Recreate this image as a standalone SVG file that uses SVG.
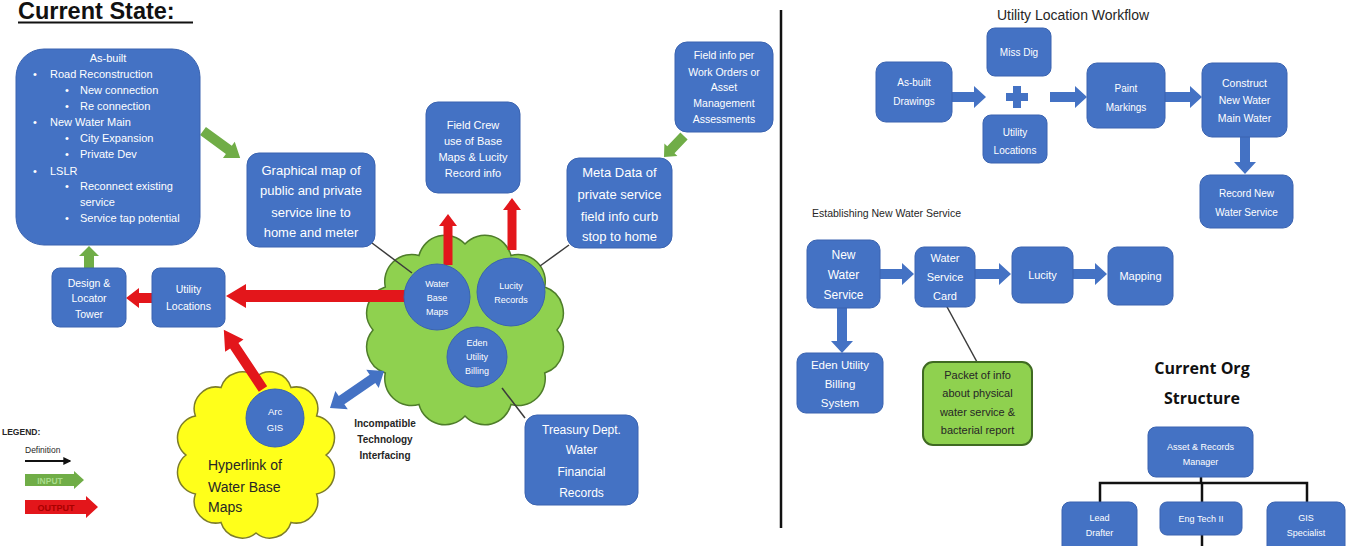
<svg xmlns="http://www.w3.org/2000/svg" width="1349" height="546" viewBox="0 0 1349 546">
  <defs>
    <style>
      .box { fill: #4472c4; stroke: #3a63b0; stroke-width: 1; }
      .circ { fill: #4472c4; stroke: #3a63b0; stroke-width: 1; }
      .wt { fill: #ffffff; font-family: "Liberation Sans", Arial, sans-serif; text-anchor: middle; }
      .wl { fill: #ffffff; font-family: "Liberation Sans", Arial, sans-serif; font-size: 11px; }
      .dk { fill: #262626; font-family: "Liberation Sans", Arial, sans-serif; }
      .red { fill: #e3161b; }
      .grn { fill: #70ad47; }
      .blu { fill: #4472c4; }
      .link { stroke: #3b3b3b; stroke-width: 1.5; fill: none; }
      .org { stroke: #111111; stroke-width: 2.5; fill: none; }
    </style>
    <marker id="defHead" viewBox="0 0 6 6" refX="5" refY="3" markerWidth="4" markerHeight="4" orient="auto">
      <path d="M0,0 L6,3 L0,6 Z" fill="#111"/>
    </marker>
  </defs>

  <rect width="1349" height="546" fill="#ffffff"/>

  <!-- page title -->
  <g id="title-current-state">
    <text x="18" y="19" font-family="Liberation Sans, Arial, sans-serif" font-size="23.5" font-weight="bold" fill="#111">Current State:</text>
    <line x1="18" y1="22.5" x2="193" y2="22.5" stroke="#111" stroke-width="2"/>
  </g>

  <!-- divider between the two halves -->
  <line id="divider" x1="781" y1="10" x2="781" y2="528" stroke="#111" stroke-width="2.5"/>

  <!-- clouds -->
  <g id="cloud-green">
    <path d="M465,244 A27,27 0 0 1 511,255.5 A27,27 0 0 1 544.7,287 A27,27 0 0 1 557,330 A27,27 0 0 1 544.7,373 A27,27 0 0 1 511,404.5 A27,27 0 0 1 465,416 A27,27 0 0 1 419,404.5 A27,27 0 0 1 385.3,373 A27,27 0 0 1 373,330 A27,27 0 0 1 385.3,287 A27,27 0 0 1 419,255.5 A27,27 0 0 1 465,244 Z" fill="#8fd14f" stroke="#4e7d2a" stroke-width="1.5"/>
  </g>
  <g id="cloud-yellow">
    <path d="M256,377 A22,22 0 0 1 291,387.5 A22,22 0 0 1 316.6,416 A22,22 0 0 1 326,455 A22,22 0 0 1 316.6,494 A22,22 0 0 1 291,522.5 A22,22 0 0 1 256,533 A22,22 0 0 1 221,522.5 A22,22 0 0 1 195.4,494 A22,22 0 0 1 186,455 A22,22 0 0 1 195.4,416 A22,22 0 0 1 221,387.5 A22,22 0 0 1 256,377 Z" fill="#ffff1a" stroke="#7d7d2a" stroke-width="1.5"/>
    <text class="dk" x="208" y="470" font-size="14">Hyperlink of</text>
    <text class="dk" x="208" y="492" font-size="14">Water Base</text>
    <text class="dk" x="208" y="512" font-size="14">Maps</text>
  </g>

  <!-- connectors -->
  <g id="connectors">
    <line class="link" x1="372" y1="243" x2="412" y2="273"/>
    <line class="link" x1="569" y1="245" x2="540" y2="266"/>
    <line class="link" x1="525" y1="418" x2="502" y2="388"/>
    <line class="link" x1="977" y1="362" x2="946" y2="305"/>

    <!-- red output arrows -->
    <polygon class="red" points="405,290 246,290 246,284 226,296 246,308 246,302 405,302"/>
    <polygon class="red" points="152,293 139,293 139,288 126,298 139,308 139,303 152,303"/>
    <polygon class="red" points="443.5,265 443.5,226 439,226 448,214 457,226 452.5,226 452.5,265"/>
    <polygon class="red" points="507.5,250 507.5,210 503,210 512,198 521,210 516.5,210 516.5,250"/>
    <polygon class="red" transform="translate(263,389) rotate(-123.5)" points="0,-5 52,-5 52,-11 71,0 52,11 52,5 0,5"/>

    <!-- green input arrows -->
    <polygon class="grn" points="84,268 84,256 79,256 89,246 99,256 94,256 94,268"/>
    <polygon class="grn" transform="translate(203,131) rotate(36.1)" points="0,-5 32,-5 32,-10 46,0 32,10 32,5 0,5"/>
    <polygon class="grn" transform="translate(684,136) rotate(133.6)" points="0,-5 19,-5 19,-9 29,0 19,9 19,5 0,5"/>

    <!-- incompatible interface double arrow -->
    <polygon class="blu" transform="translate(330,408) rotate(-34.4)" points="0,0 14,-11 14,-5 51.5,-5 51.5,-11 65.5,0 51.5,11 51.5,5 14,5 14,11"/>

    <!-- workflow arrows -->
    <polygon class="blu" points="952,92 974,92 974,86 986,97 974,108 974,102 952,102"/>
    <polygon class="blu" points="1050,92 1075,92 1075,86 1087,97 1075,108 1075,102 1050,102"/>
    <polygon class="blu" points="1165,92 1190,92 1190,86 1202,97 1190,108 1190,102 1165,102"/>
    <polygon class="blu" points="1240,137 1240,162 1234,162 1245,174 1256,162 1250,162 1250,137"/>
    <polygon class="blu" points="880,269 902,269 902,263 914,274 902,285 902,279 880,279"/>
    <polygon class="blu" points="975,269 999,269 999,263 1011,274 999,285 999,279 975,279"/>
    <polygon class="blu" points="1073,269 1095,269 1095,263 1107,274 1095,285 1095,279 1073,279"/>
    <polygon class="blu" points="837,308 837,341 831,341 842,353 853,341 847,341 847,308"/>
    <!-- plus sign -->
    <polygon class="blu" points="1013,86 1021,86 1021,93 1028,93 1028,101 1021,101 1021,108 1013,108 1013,101 1006,101 1006,93 1013,93"/>

    <!-- org chart lines -->
    <polyline class="org" points="1201,477 1201,483"/>
    <polyline class="org" points="1100,502 1100,483 1307,483 1307,502"/>
    <line class="org" x1="1202" y1="483" x2="1202" y2="502"/>
    <line class="org" x1="1202" y1="535" x2="1202" y2="546"/>
  </g>

  <!-- left half nodes -->
  <g id="as-built">
    <rect class="box" x="16" y="49" width="184" height="196" rx="28"/>
    <text class="wt" x="108" y="62" font-size="11">As-built</text>
    <text class="wl" x="33" y="78">•</text><text class="wl" x="50" y="78">Road Reconstruction</text>
    <text class="wl" x="65" y="94">•</text><text class="wl" x="80" y="94">New connection</text>
    <text class="wl" x="65" y="110">•</text><text class="wl" x="80" y="110">Re connection</text>
    <text class="wl" x="33" y="126">•</text><text class="wl" x="50" y="126">New Water Main</text>
    <text class="wl" x="65" y="142">•</text><text class="wl" x="80" y="142">City Expansion</text>
    <text class="wl" x="65" y="158">•</text><text class="wl" x="80" y="158">Private Dev</text>
    <text class="wl" x="33" y="175">•</text><text class="wl" x="50" y="175">LSLR</text>
    <text class="wl" x="65" y="190">•</text><text class="wl" x="80" y="190">Reconnect existing</text>
    <text class="wl" x="80" y="206">service</text>
    <text class="wl" x="65" y="222">•</text><text class="wl" x="80" y="222">Service tap potential</text>
  </g>

  <g id="design-locator">
    <rect class="box" x="52" y="268" width="74" height="59" rx="8"/>
    <text class="wt" x="89" y="287" font-size="10.5">Design &amp;</text>
    <text class="wt" x="89" y="302" font-size="10.5">Locator</text>
    <text class="wt" x="89" y="318" font-size="10.5">Tower</text>
  </g>

  <g id="utility-locations">
    <rect class="box" x="152" y="268" width="73" height="59" rx="8"/>
    <text class="wt" x="188.5" y="293" font-size="10.5">Utility</text>
    <text class="wt" x="188.5" y="310" font-size="10.5">Locations</text>
  </g>

  <g id="graphical-map">
    <rect class="box" x="247" y="153" width="128" height="94" rx="12"/>
    <text class="wt" x="311" y="175" font-size="13">Graphical map of</text>
    <text class="wt" x="311" y="195" font-size="13">public and private</text>
    <text class="wt" x="311" y="217" font-size="13">service line to</text>
    <text class="wt" x="311" y="237" font-size="13">home and meter</text>
  </g>

  <g id="field-crew">
    <rect class="box" x="426" y="102" width="94" height="91" rx="12"/>
    <text class="wt" x="473" y="129" font-size="11">Field Crew</text>
    <text class="wt" x="473" y="145" font-size="11">use of Base</text>
    <text class="wt" x="473" y="161" font-size="11">Maps &amp; Lucity</text>
    <text class="wt" x="473" y="177" font-size="11">Record info</text>
  </g>

  <g id="field-info">
    <rect class="box" x="675" y="42" width="98" height="90" rx="12"/>
    <text class="wt" x="724" y="59" font-size="10.5">Field info per</text>
    <text class="wt" x="724" y="76" font-size="10.5">Work Orders or</text>
    <text class="wt" x="724" y="91" font-size="10.5">Asset</text>
    <text class="wt" x="724" y="107" font-size="10.5">Management</text>
    <text class="wt" x="724" y="123" font-size="10.5">Assessments</text>
  </g>

  <g id="meta-data">
    <rect class="box" x="567" y="158" width="105" height="90" rx="12"/>
    <text class="wt" x="619.5" y="177" font-size="13">Meta Data of</text>
    <text class="wt" x="619.5" y="199" font-size="13">private service</text>
    <text class="wt" x="619.5" y="221" font-size="13">field info curb</text>
    <text class="wt" x="619.5" y="241" font-size="13">stop to home</text>
  </g>

  <g id="water-base-maps">
    <circle class="circ" cx="437" cy="297" r="33"/>
    <text class="wt" x="437" y="287" font-size="9">Water</text>
    <text class="wt" x="437" y="301" font-size="9">Base</text>
    <text class="wt" x="437" y="315" font-size="9">Maps</text>
  </g>

  <g id="lucity-records">
    <circle class="circ" cx="511" cy="292" r="34"/>
    <text class="wt" x="511" y="289" font-size="9">Lucity</text>
    <text class="wt" x="511" y="303" font-size="9">Records</text>
  </g>

  <g id="eden-billing">
    <circle class="circ" cx="477" cy="357" r="30"/>
    <text class="wt" x="477" y="346" font-size="9">Eden</text>
    <text class="wt" x="477" y="360" font-size="9">Utility</text>
    <text class="wt" x="477" y="374" font-size="9">Billing</text>
  </g>

  <g id="arc-gis">
    <circle class="circ" cx="275" cy="418" r="29"/>
    <text class="wt" x="275" y="415" font-size="9.5">Arc</text>
    <text class="wt" x="275" y="431" font-size="9.5">GIS</text>
  </g>

  <g id="interface-note">
    <text class="dk" x="385" y="427" font-size="10" font-weight="bold" text-anchor="middle">Incompatible</text>
    <text class="dk" x="385" y="443" font-size="10" font-weight="bold" text-anchor="middle">Technology</text>
    <text class="dk" x="385" y="459" font-size="10" font-weight="bold" text-anchor="middle">Interfacing</text>
  </g>

  <g id="treasury">
    <rect class="box" x="525" y="415" width="113" height="90" rx="12"/>
    <text class="wt" x="581.5" y="434" font-size="12">Treasury Dept.</text>
    <text class="wt" x="581.5" y="454" font-size="12">Water</text>
    <text class="wt" x="581.5" y="476" font-size="12">Financial</text>
    <text class="wt" x="581.5" y="497" font-size="12">Records</text>
  </g>

  <g id="legend">
    <text class="dk" x="2" y="435" font-size="8.5" font-weight="bold">LEGEND:</text>
    <text class="dk" x="25" y="453" font-size="8.5">Definition</text>
    <line x1="25" y1="461" x2="70" y2="461" stroke="#111" stroke-width="2" marker-end="url(#defHead)"/>
    <polygon class="grn" points="25,474 74,474 74,471 84,480 74,489 74,486 25,486"/>
    <text x="50" y="483.5" font-family="Liberation Sans, Arial, sans-serif" font-size="8.5" font-weight="bold" fill="#a9dc8c" text-anchor="middle">INPUT</text>
    <polygon class="red" points="25,500 86,500 86,496 98,507 86,518 86,514 25,514"/>
    <text x="56" y="511" font-family="Liberation Sans, Arial, sans-serif" font-size="9" font-weight="bold" fill="#a80000" text-anchor="middle">OUTPUT</text>
  </g>

  <!-- right half: utility location workflow -->
  <g id="workflow-title">
    <text class="dk" x="1073" y="20" font-size="14" text-anchor="middle">Utility Location Workflow</text>
  </g>

  <g id="as-built-drawings">
    <rect class="box" x="876" y="62" width="76" height="60" rx="10"/>
    <text class="wt" x="914" y="86" font-size="10">As-built</text>
    <text class="wt" x="914" y="105" font-size="10">Drawings</text>
  </g>

  <g id="miss-dig">
    <rect class="box" x="987" y="28" width="64" height="48" rx="8"/>
    <text class="wt" x="1019" y="56" font-size="10">Miss Dig</text>
  </g>

  <g id="utility-locations-2">
    <rect class="box" x="983" y="115" width="64" height="48" rx="8"/>
    <text class="wt" x="1015" y="136" font-size="10">Utility</text>
    <text class="wt" x="1015" y="154" font-size="10">Locations</text>
  </g>

  <g id="paint-markings">
    <rect class="box" x="1087" y="63" width="78" height="65" rx="10"/>
    <text class="wt" x="1126" y="92" font-size="10">Paint</text>
    <text class="wt" x="1126" y="111" font-size="10">Markings</text>
  </g>

  <g id="construct">
    <rect class="box" x="1202" y="63" width="85" height="74" rx="10"/>
    <text class="wt" x="1244.5" y="87" font-size="10.5">Construct</text>
    <text class="wt" x="1244.5" y="104" font-size="10.5">New Water</text>
    <text class="wt" x="1244.5" y="122" font-size="10.5">Main Water</text>
  </g>

  <g id="record-service">
    <rect class="box" x="1200" y="175" width="93" height="53" rx="10"/>
    <text class="wt" x="1246.5" y="197" font-size="10">Record New</text>
    <text class="wt" x="1246.5" y="216" font-size="10">Water Service</text>
  </g>

  <!-- right half: establishing new water service -->
  <g id="service-title">
    <text class="dk" x="812" y="217" font-size="10.5" fill="#333">Establishing New Water Service</text>
  </g>

  <g id="new-water-service">
    <rect class="box" x="807" y="240" width="73" height="68" rx="10"/>
    <text class="wt" x="843.5" y="259" font-size="12">New</text>
    <text class="wt" x="843.5" y="279" font-size="12">Water</text>
    <text class="wt" x="843.5" y="299" font-size="12">Service</text>
  </g>

  <g id="service-card">
    <rect class="box" x="915" y="247" width="60" height="60" rx="9"/>
    <text class="wt" x="945" y="262" font-size="11">Water</text>
    <text class="wt" x="945" y="281" font-size="11">Service</text>
    <text class="wt" x="945" y="300" font-size="11">Card</text>
  </g>

  <g id="lucity">
    <rect class="box" x="1012" y="247" width="61" height="56" rx="9"/>
    <text class="wt" x="1042.5" y="279" font-size="11">Lucity</text>
  </g>

  <g id="mapping">
    <rect class="box" x="1108" y="247" width="65" height="58" rx="9"/>
    <text class="wt" x="1140.5" y="280" font-size="11">Mapping</text>
  </g>

  <g id="eden-system">
    <rect class="box" x="797" y="353" width="86" height="60" rx="9"/>
    <text class="wt" x="840" y="369" font-size="11.5">Eden Utility</text>
    <text class="wt" x="840" y="388" font-size="11.5">Billing</text>
    <text class="wt" x="840" y="407" font-size="11.5">System</text>
  </g>

  <g id="packet-info">
    <rect x="923" y="362" width="109" height="83" rx="10" fill="#8fd14f" stroke="#3f6a22" stroke-width="2"/>
    <text class="dk" x="977.5" y="379" font-size="11" text-anchor="middle">Packet of info</text>
    <text class="dk" x="977.5" y="397" font-size="11" text-anchor="middle">about physical</text>
    <text class="dk" x="977.5" y="416" font-size="11" text-anchor="middle">water service &amp;</text>
    <text class="dk" x="977.5" y="434" font-size="11" text-anchor="middle">bacterial report</text>
  </g>

  <!-- right half: org chart -->
  <g id="org-title">
    <text x="1202" y="374" font-family="Open Sans, Liberation Sans, sans-serif" font-size="16" font-weight="bold" fill="#111" text-anchor="middle">Current Org</text>
    <text x="1202" y="404" font-family="Open Sans, Liberation Sans, sans-serif" font-size="16" font-weight="bold" fill="#111" text-anchor="middle">Structure</text>
  </g>

  <g id="records-manager">
    <rect class="box" x="1148" y="427" width="105" height="50" rx="8"/>
    <text class="wt" x="1200.5" y="450" font-size="9">Asset &amp; Records</text>
    <text class="wt" x="1200.5" y="465" font-size="9">Manager</text>
  </g>

  <g id="lead-drafter">
    <rect class="box" x="1062" y="502" width="75" height="60" rx="8"/>
    <text class="wt" x="1099.5" y="521" font-size="9">Lead</text>
    <text class="wt" x="1099.5" y="536" font-size="9">Drafter</text>
  </g>

  <g id="eng-tech">
    <rect class="box" x="1160" y="502" width="82" height="33" rx="7"/>
    <text class="wt" x="1201" y="522" font-size="9">Eng Tech II</text>
  </g>

  <g id="gis-specialist">
    <rect class="box" x="1267" y="502" width="78" height="60" rx="8"/>
    <text class="wt" x="1306" y="521" font-size="9">GIS</text>
    <text class="wt" x="1306" y="536" font-size="9">Specialist</text>
  </g>
</svg>
